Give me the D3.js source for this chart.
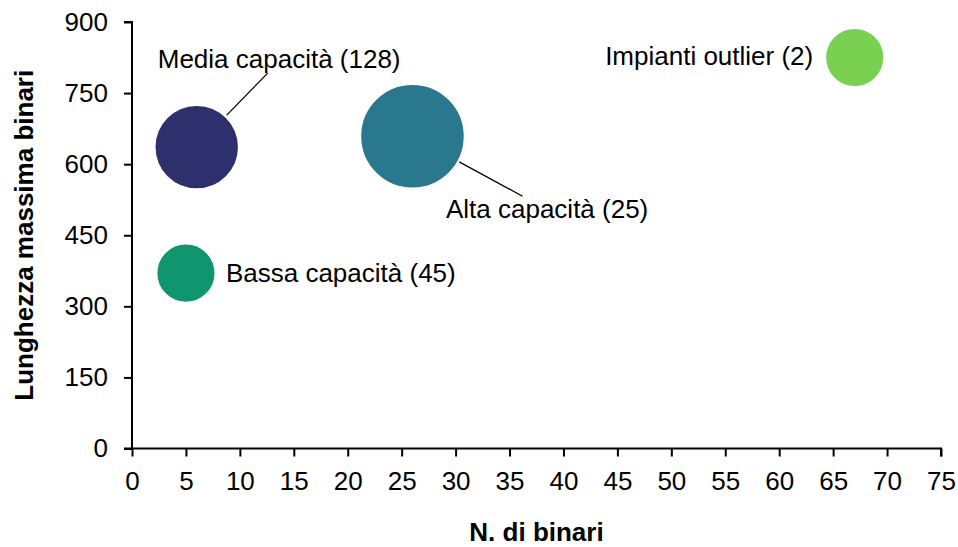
<!DOCTYPE html>
<html>
<head>
<meta charset="utf-8">
<script src="https://cdn.jsdelivr.net/npm/d3@7"></script>
<style>
  html, body { margin: 0; padding: 0; background: #ffffff; }
  svg { display: block; font-family: "Liberation Sans", Arial, sans-serif; }
</style>
</head>
<body>
<svg id="chart" width="958" height="547"></svg>
<script>
// ---- Data ----
const groups      = ["Media capacità", "Alta capacità", "Bassa capacità", "Impianti outlier"];
const counts      = [128, 25, 45, 2];
const numTracks   = [6, 26, 5, 67];          // N. di binari (x)
const maxLength   = [636, 659, 370, 825];    // Lunghezza massima binari (y)
const bubbleSize  = [41, 63, 20, 20];        // bubble size (area-proportional)
const xTicks      = [0, 5, 10, 15, 20, 25, 30, 35, 40, 45, 50, 55, 60, 65, 70, 75];
const yTicks      = [0, 150, 300, 450, 600, 750, 900];
const colors      = ["#2e2f6d", "#2a788e", "#10966f", "#7ad151"];

// ---- Layout (styles/positions) ----
const W = 958, H = 547;
const plot = { left: 132, right: 941, top: 22, bottom: 448.5 };
const FONT = 26;
// label placement relative to bubble centre
const labelLayout = [
  { dx: -39, dy: -79, anchor: "start", leader: [30, -32, 71, -74] },
  { dx: 33.5, dy: 82, anchor: "start", leader: [46.8, 25.7, 110, 60] },
  { dx: 40, dy: 8.7, anchor: "start", leader: null },
  { dx: -41.5, dy: 7.5, anchor: "end", leader: null }
];

const data = groups.map((g, i) => ({
  name: g, count: counts[i], x: numTracks[i], y: maxLength[i], s: bubbleSize[i], color: colors[i], lab: labelLayout[i]
}));

const svg = d3.select("#chart");

const x = d3.scaleLinear().domain([0, 75]).range([plot.left, plot.right]);
const y = d3.scaleLinear().domain([0, 900]).range([plot.bottom, plot.top]);
const r = d3.scaleSqrt().domain([0, 63]).range([0, 52]);

// Axes
const xAxis = d3.axisBottom(x).tickValues(xTicks).tickSizeOuter(0).tickSizeInner(8).tickPadding(15);
const yAxis = d3.axisLeft(y).tickValues(yTicks).tickSizeOuter(0).tickSizeInner(8).tickPadding(16);

const gx = svg.append("g").attr("transform", `translate(0,${plot.bottom})`).call(xAxis);
const gy = svg.append("g").attr("transform", `translate(${plot.left},0)`).call(yAxis);

[gx, gy].forEach(g => {
  g.select(".domain").attr("stroke", "#000").attr("stroke-width", 2);
  g.selectAll(".tick line").attr("stroke", "#000").attr("stroke-width", 2);
  g.selectAll(".tick text").attr("fill", "#000").style("font-size", FONT + "px")
    .style("font-family", '"Liberation Sans", Arial, sans-serif');
});
gx.select(".domain").attr("d", `M${plot.left - 8},0H${plot.right}V8`);
gy.select(".domain").attr("d", `M-8,${plot.top}H0V${plot.bottom}`);

// Axis titles
svg.append("text")
  .attr("x", (plot.left + plot.right) / 2)
  .attr("y", 541)
  .attr("text-anchor", "middle")
  .style("font-size", FONT + "px").style("font-weight", "bold").attr("fill", "#000")
  .text("N. di binari");

svg.append("text")
  .attr("transform", `translate(33,${(plot.top + plot.bottom) / 2}) rotate(-90)`)
  .attr("text-anchor", "middle")
  .style("font-size", FONT + "px").style("font-weight", "bold").attr("fill", "#000")
  .text("Lunghezza massima binari");

// Bubbles
svg.append("g").selectAll("circle").data(data).join("circle")
  .attr("cx", d => x(d.x))
  .attr("cy", d => y(d.y))
  .attr("r", d => r(d.s))
  .attr("fill", d => d.color)
  .attr("stroke", "#ffffff")
  .attr("stroke-width", 1.5);

// Leader lines
svg.append("g").selectAll("line").data(data.filter(d => d.lab.leader)).join("line")
  .attr("x1", d => x(d.x) + d.lab.leader[0])
  .attr("y1", d => y(d.y) + d.lab.leader[1])
  .attr("x2", d => x(d.x) + d.lab.leader[2])
  .attr("y2", d => y(d.y) + d.lab.leader[3])
  .attr("stroke", "#000").attr("stroke-width", 1.3);

// Labels
svg.append("g").selectAll("text").data(data).join("text")
  .attr("x", d => x(d.x) + d.lab.dx)
  .attr("y", d => y(d.y) + d.lab.dy)
  .attr("text-anchor", d => d.lab.anchor)
  .style("font-size", FONT + "px").attr("fill", "#000")
  .text(d => `${d.name} (${d.count})`);
</script>
</body>
</html>
